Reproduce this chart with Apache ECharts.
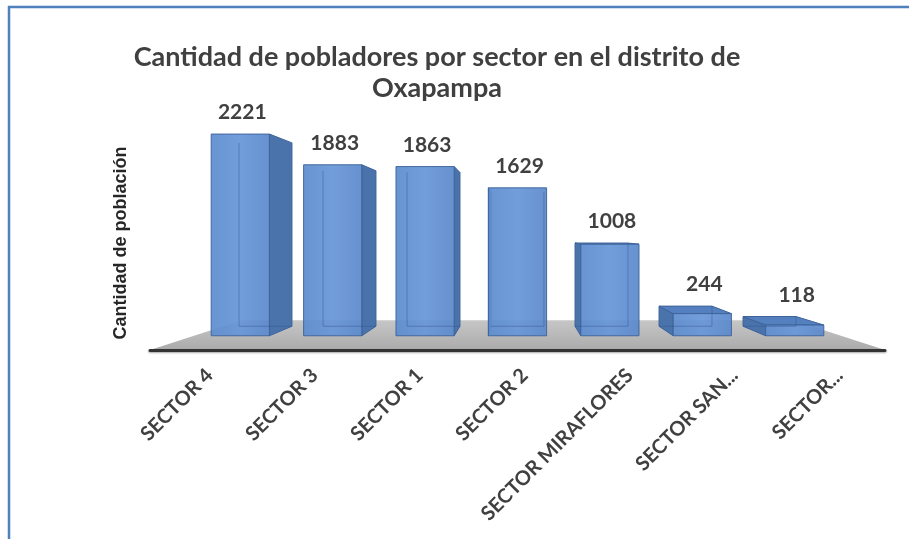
<!DOCTYPE html>
<html>
<head>
<meta charset="utf-8">
<script src="https://cdn.jsdelivr.net/npm/echarts@6/dist/echarts.min.js"></script>
<style>
html, body { margin: 0; padding: 0; background: #fff; }
#chart { width: 909px; height: 539px; }
</style>
</head>
<body>
<div id="chart"></div>
<script>
var categories = ['SECTOR 4', 'SECTOR 3', 'SECTOR 1', 'SECTOR 2', 'SECTOR MIRAFLORES', 'SECTOR SAN...', 'SECTOR...'];
var pobladores = [2221, 1883, 1863, 1629, 1008, 244, 118];

// perspectiva: escala de la cara frontal, trasera y fondo del piso
var SF = 0.88, SB = 0.80, SFLOOR = 0.75;

function vpOf(cs) {
	return [cs.x + cs.width * 0.5, cs.y + cs.height * 0.54];
}
function proj(vp, x, y, s) {
	return [vp[0] + (x - vp[0]) * s, vp[1] + (y - vp[1]) * s];
}

// piso gris
function renderFloor(params, api) {
	var cs = params.coordSys;
	var vp = vpOf(cs);
	var yb = cs.y + cs.height;
	var fl = [cs.x, yb], fr = [cs.x + cs.width, yb];
	var bl = proj(vp, fl[0], fl[1], SFLOOR), br = proj(vp, fr[0], fr[1], SFLOOR);
	return {
		type : 'polygon',
		shape : { points : [ fl, fr, br, bl ] },
		style : {
			fill : new echarts.graphic.LinearGradient(0, 0, 0, 1, [
				{ offset : 0, color : '#c6c6c6' },
				{ offset : 1, color : '#ababab' }
			])
		}
	};
}

// barras 3D
function renderBar(params, api) {
	var cs = params.coordSys;
	var vp = vpOf(cs);
	var base = api.coord([ api.value(0), 0 ]);
	var top = api.coord([ api.value(0), api.value(1) ]);
	var hw = api.size([ 1, 0 ])[0] * 0.315;
	var L = base[0] - hw, R = base[0] + hw, B = base[1], T = top[1];

	var fLB = proj(vp, L, B, SF), fRB = proj(vp, R, B, SF);
	var fRT = proj(vp, R, T, SF), fLT = proj(vp, L, T, SF);
	var bLB = proj(vp, L, B, SB), bRB = proj(vp, R, B, SB);
	var bRT = proj(vp, R, T, SB), bLT = proj(vp, L, T, SB);

	var edge = '#3d6399';
	var children = [];
	var rightSide = bRT[0] > fRT[0];

	// cara lateral
	children.push({
		type : 'polygon',
		shape : { points : rightSide ? [ fRB, fRT, bRT, bRB ] : [ fLB, fLT, bLT, bLB ] },
		style : { fill : '#4b73ab', stroke : edge, lineWidth : 1 }
	});
	// cara superior
	if (T > vp[1] - 4) {
		children.push({
			type : 'polygon',
			shape : { points : [ fLT, fRT, bRT, bLT ] },
			style : { fill : '#5580bf', stroke : edge, lineWidth : 1 }
		});
	}
	// cara frontal
	children.push({
		type : 'polygon',
		shape : { points : [ fLB, fRB, fRT, fLT ] },
		style : {
			fill : new echarts.graphic.LinearGradient(0, 0, 1, 0, [
				{ offset : 0, color : '#5d8ccf' },
				{ offset : 0.5, color : '#6796d8' },
				{ offset : 1, color : '#5b89cb' }
			]),
			opacity : 0.93,
			stroke : edge,
			lineWidth : 1
		}
	});
	// aristas traseras vistas a traves
	var backV = rightSide ? [ bLT, bLB ] : [ bRT, bRB ];
	children.push({
		type : 'polyline',
		shape : { points : [ backV[0], backV[1], rightSide ? bRB : bLB ] },
		style : { stroke : 'rgba(50,85,140,0.45)', lineWidth : 1, fill : null }
	});
	// etiqueta del valor
	var yMin = Math.min(fLT[1], fRT[1], bLT[1], bRT[1]);
	children.push({
		type : 'text',
		style : {
			x : (fLT[0] + fRT[0]) / 2 + 2,
			y : yMin - 11,
			text : String(api.value(1)),
			fill : '#404040',
			font : 'bold 21px Lato',
			align : 'center',
			verticalAlign : 'bottom'
		}
	});
	return { type : 'group', children : children };
}

var myChart = echarts.init(document.getElementById('chart'));
var option = {
	animation : false,
	title : {
		text : 'Cantidad de pobladores por sector en el distrito de\nOxapampa',
		left : 432,
		top : 37,
		textAlign : 'center',
		textStyle : {
			fontFamily : 'Lato',
			fontSize : 27,
			fontWeight : 'bold',
			color : '#404040',
			lineHeight : 31
		}
	},
	graphic : [ {
		type : 'polyline',
		shape : { points : [ [ 9, 539 ], [ 9, 7 ], [ 909, 7 ] ] },
		style : { stroke : '#4f81bd', lineWidth : 2.5, fill : null }
	}, {
		type : 'text',
		x : 121,
		y : 243,
		rotation : Math.PI / 2,
		style : {
			text : 'Cantidad de población',
			font : 'bold 18px "Liberation Sans"',
			fill : '#262626',
			align : 'center',
			verticalAlign : 'middle'
		}
	} ],
	grid : {
		left : 150,
		right : 24,
		top : 92,
		bottom : 189
	},
	xAxis : {
		type : 'category',
		data : categories,
		axisTick : { show : false },
		axisLine : {
			lineStyle : {
				color : '#333',
				width : 3,
				shadowBlur : 2,
				shadowColor : 'rgba(0,0,0,0.35)',
				shadowOffsetY : 1
			}
		},
		axisLabel : {
			rotate : 45,
			margin : 15,
			interval : 0,
			verticalAlign : 'top',
			fontFamily : 'Lato',
			fontWeight : 'bold',
			fontSize : 20,
			color : '#404040'
		},
		z : 5
	},
	yAxis : {
		type : 'value',
		min : 0,
		max : 2500,
		show : false
	},
	series : [ {
		type : 'custom',
		renderItem : renderFloor,
		data : [ [ 0 ] ],
		z : 1,
		silent : true
	}, {
		type : 'custom',
		renderItem : renderBar,
		encode : { x : 0, y : 1 },
		data : categories.map(function(c, i) { return [ i, pobladores[i] ]; }),
		z : 2
	} ]
};
myChart.setOption(option);
</script>
</body>
</html>
